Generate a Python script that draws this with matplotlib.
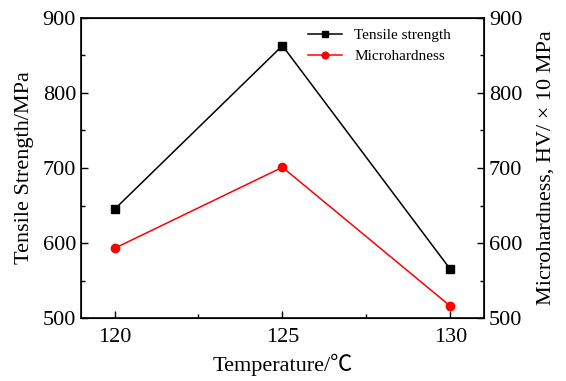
import matplotlib
matplotlib.use("Agg")
import matplotlib.pyplot as plt
from matplotlib.ticker import MultipleLocator

plt.rcParams['font.family'] = ['Liberation Serif', 'Noto Sans CJK SC', 'DejaVu Sans']
plt.rcParams['mathtext.fontset'] = 'stix'

temperature = [120, 125, 130]
tensile_strength = [645, 863, 565]
microhardness = [593, 701, 516]
x_ticks = [120, 125, 130]
y_ticks = [500, 600, 700, 800, 900]

fig = plt.figure(figsize=(5.66, 3.81), dpi=100)
ax = fig.add_axes([0.143, 0.165, 0.712, 0.788])
ax.plot(temperature, tensile_strength, color='black', marker='s', markersize=6, lw=1.1, label='Tensile strength')
ax.plot(temperature, microhardness, color='red', marker='o', markersize=6, lw=1.1, label='Microhardness')
ax.set_xlim(119, 131)
ax.set_ylim(500, 900)
ax.set_xticks(x_ticks)
ax.set_yticks(y_ticks)
ax.xaxis.set_minor_locator(MultipleLocator(2.5))
ax.yaxis.set_minor_locator(MultipleLocator(50))
ax.tick_params(which='both', direction='in', labelsize=16, width=1)
ax.tick_params(which='major', length=5)
ax.tick_params(which='minor', length=3)
ax.tick_params(axis='x', pad=7)
ax.set_xlabel('Temperature/℃', fontsize=16, labelpad=5)
ax.set_ylabel('Tensile Strength/MPa', fontsize=16, labelpad=6)
for s in ax.spines.values():
    s.set_linewidth(1.2)

ax2 = ax.twinx()
ax2.set_ylim(500, 900)
ax2.set_yticks(y_ticks)
ax2.yaxis.set_minor_locator(MultipleLocator(50))
ax2.tick_params(which='both', direction='in', labelsize=16, width=1)
ax2.tick_params(which='major', length=5)
ax2.tick_params(which='minor', length=3)
ax2.set_ylabel('Microhardness, HV/ × 10 MPa', fontsize=16, labelpad=10)

leg = ax.legend(loc='upper right', frameon=False, fontsize=11, handlelength=2.2,
                markerscale=0.8, borderaxespad=0.3, labelspacing=0.45,
                bbox_to_anchor=(0.945, 1.0))

fig.savefig('out.png', dpi=100)
